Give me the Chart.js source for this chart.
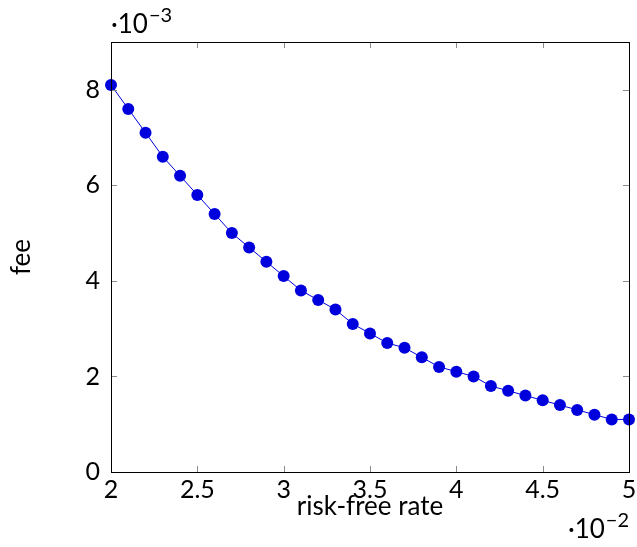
<!DOCTYPE html>
<html>
<head>
<meta charset="utf-8">
<script src="https://cdn.jsdelivr.net/npm/chart.js@4"></script>
<style>
  html, body { margin: 0; padding: 0; background: #fff; }
  #wrap { width: 637px; height: 547px; }
</style>
</head>
<body>
<div id="wrap"><canvas id="feeChart" width="637" height="547"></canvas></div>
<script>
// risk-free rate (x 10^-2) and fee (x 10^-3)
const rates = [2.0, 2.1, 2.2, 2.3, 2.4, 2.5, 2.6, 2.7, 2.8, 2.9, 3.0, 3.1, 3.2, 3.3, 3.4, 3.5,
  3.6, 3.7, 3.8, 3.9, 4.0, 4.1, 4.2, 4.3, 4.4, 4.5, 4.6, 4.7, 4.8, 4.9, 5.0];
const fees = [8.1, 7.6, 7.1, 6.6, 6.2, 5.8, 5.4, 5.0, 4.7, 4.4, 4.1, 3.8, 3.6, 3.4, 3.1, 2.9,
  2.7, 2.6, 2.4, 2.2, 2.1, 2.0, 1.8, 1.7, 1.6, 1.5, 1.4, 1.3, 1.2, 1.1, 1.1];
const xTicks = [2, 2.5, 3, 3.5, 4, 4.5, 5];
const yTicks = [0, 2, 4, 6, 8];
const xExponent = '\u22122';
const yExponent = '\u22123';

const FONT = 'Lato, "Open Sans", sans-serif';
const BLUE = '#0000dd';

// pgfplots-style box with inward ticks and the scale exponents
const boxPlugin = {
  id: 'box',
  afterDraw(chart) {
    const { ctx, chartArea: a } = chart;
    const xs = chart.scales.x;
    const ys = chart.scales.y;
    ctx.save();
    ctx.strokeStyle = '#8a8a8a';
    ctx.lineWidth = 1;
    ctx.beginPath();
    xTicks.forEach(v => {
      const px = Math.round(xs.getPixelForValue(v)) + 0.5;
      ctx.moveTo(px, a.bottom); ctx.lineTo(px, a.bottom - 6);
      ctx.moveTo(px, a.top); ctx.lineTo(px, a.top + 6);
    });
    yTicks.forEach(v => {
      const py = Math.round(ys.getPixelForValue(v)) + 0.5;
      ctx.moveTo(a.left, py); ctx.lineTo(a.left + 6, py);
      ctx.moveTo(a.right, py); ctx.lineTo(a.right - 6, py);
    });
    ctx.stroke();

    ctx.strokeStyle = '#000';
    ctx.strokeRect(Math.round(a.left) + 0.5, Math.round(a.top) + 0.5,
      Math.round(a.right - a.left), Math.round(a.bottom - a.top));

    ctx.fillStyle = '#000';
    ctx.textBaseline = 'alphabetic';
    ctx.textAlign = 'left';
    function expWidth(exp) {
      ctx.font = '26px ' + FONT;
      const w = ctx.measureText('\u00b710').width;
      ctx.font = '20px ' + FONT;
      return w + 1 + ctx.measureText(exp).width;
    }
    function expLabel(x, y, exp) {
      ctx.font = '26px ' + FONT;
      ctx.fillText('\u00b710', x, y);
      const w = ctx.measureText('\u00b710').width;
      ctx.font = '20px ' + FONT;
      ctx.fillText(exp, x + w + 1, y - 11);
    }
    expLabel(a.left, 33, yExponent);
    expLabel(a.right - expWidth(xExponent), 538, xExponent);
    ctx.restore();
  }
};

new Chart(document.getElementById('feeChart'), {
  type: 'line',
  data: {
    datasets: [{
      data: rates.map((r, i) => ({ x: r, y: fees[i] })),
      borderColor: BLUE,
      backgroundColor: BLUE,
      borderWidth: 1,
      pointRadius: 6,
      pointBorderWidth: 0,
      pointBackgroundColor: BLUE,
      tension: 0,
      clip: false
    }]
  },
  options: {
    responsive: false,
    animation: false,
    layout: { padding: { left: 0, top: 42, right: 8, bottom: 0 } },
    plugins: { legend: { display: false }, tooltip: { enabled: false } },
    scales: {
      x: {
        type: 'linear',
        min: 2,
        max: 5,
        afterBuildTicks: s => { s.ticks = xTicks.map(v => ({ value: v })); },
        afterFit: s => { s.height = 75; s.paddingLeft = 0; s.paddingRight = 0; },
        grid: { display: false, drawTicks: false },
        border: { display: false },
        ticks: { color: '#000', font: { family: FONT, size: 25 }, padding: 3, maxRotation: 0,
          callback: v => String(v) },
        title: { display: true, text: 'risk-free rate', color: '#000',
          font: { family: FONT, size: 26 }, padding: { top: 0, bottom: 25 } }
      },
      y: {
        min: 0,
        max: 9,
        afterBuildTicks: s => { s.ticks = yTicks.map(v => ({ value: v })); },
        afterFit: s => { s.width = 111; s.paddingTop = 0; s.paddingBottom = 0; },
        grid: { display: false, drawTicks: false },
        border: { display: false },
        ticks: { color: '#000', font: { family: FONT, size: 25 }, padding: 11 },
        title: { display: true, text: 'fee', color: '#000',
          font: { family: FONT, size: 26 }, padding: { top: 6, bottom: 0 } }
      }
    }
  },
  plugins: [boxPlugin]
});
</script>
</body>
</html>
